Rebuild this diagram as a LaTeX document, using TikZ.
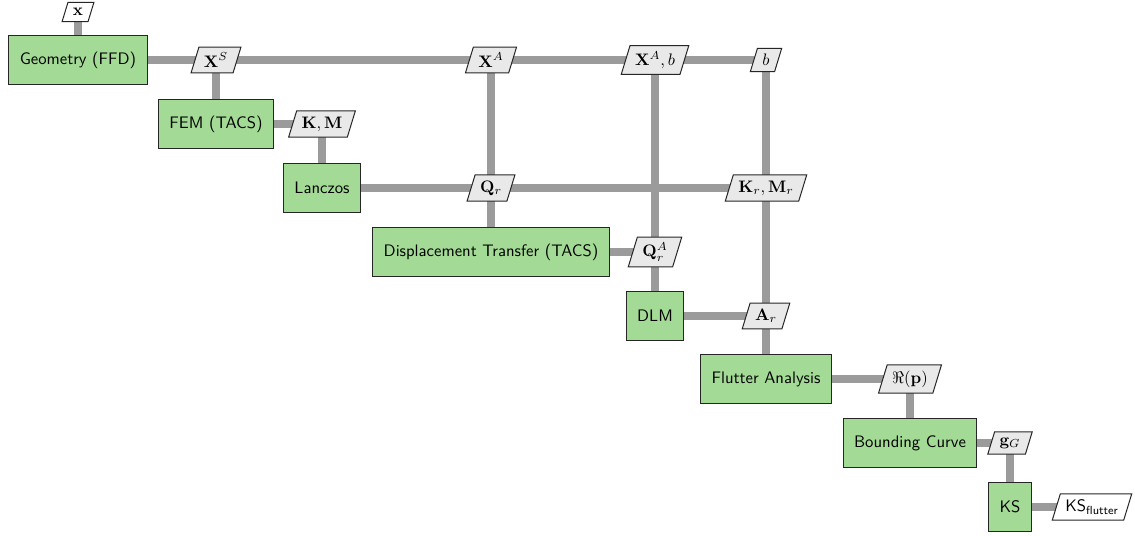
\documentclass[tikz,border=0pt]{standalone}
\usepackage{amsmath,amssymb}
\usetikzlibrary{shapes.geometric,backgrounds}
\definecolor{fgreen}{RGB}{163,218,149}
\definecolor{dgray}{RGB}{233,233,233}
\definecolor{lgray}{RGB}{155,155,155}
\begin{document}
\begin{tikzpicture}[x=0.6pt,y=-0.6pt,
 func/.style={draw=black!85, line width=0.6pt, fill=fgreen, minimum height=29.4pt, inner xsep=6.5pt, font=\sffamily},
 dat/.style={trapezium, trapezium left angle=73, trapezium right angle=107, draw=black!85, line width=0.6pt, fill=dgray, inner xsep=3pt, inner ysep=3.5pt},
 datin/.style={dat, fill=white},
 conn/.style={line width=4.8pt, draw=lgray}]
\useasboundingbox (0,0) rectangle (1135,536);
\node[datin] (x) at (78,12) {$\mathbf{x}$};
\node[func] (geo) at (78,60) {Geometry (FFD)};
\node[dat] (xs) at (216,60) {$\mathbf{X}^S$};
\node[dat] (xa) at (491,60) {$\mathbf{X}^A$};
\node[dat] (xab) at (655,60) {$\mathbf{X}^A, b$};
\node[dat] (b) at (766,60) {$b$};
\node[func] (fem) at (216,124) {FEM (TACS)};
\node[dat] (km) at (322,124) {$\mathbf{K}, \mathbf{M}$};
\node[func] (lan) at (322,188) {Lanczos};
\node[dat] (qr) at (491,188) {$\mathbf{Q}_r$};
\node[dat] (kmr) at (766,188) {$\mathbf{K}_r, \mathbf{M}_r$};
\node[func] (dt) at (491,252) {Displacement Transfer (TACS)};
\node[dat] (qra) at (655,252) {$\mathbf{Q}_r^A$};
\node[func] (dlm) at (655,316) {DLM};
\node[dat] (ar) at (766,316) {$\mathbf{A}_r$};
\node[func] (fa) at (766,379) {Flutter Analysis};
\node[dat] (rep) at (910,379) {$\Re(\mathbf{p})$};
\node[func] (bc) at (910,443) {Bounding Curve};
\node[dat] (gg) at (1010,443) {$\mathbf{g}_G$};
\node[func] (ks) at (1010,507) {KS};
\node[datin] (ksf) at (1092,507) {\textsf{KS}$_\textsf{flutter}$};
\begin{scope}[on background layer]
\draw[conn] (x.center) -- (geo.center);
\draw[conn] (geo.center) -- (b.center);
\draw[conn] (xs.center) -- (fem.center);
\draw[conn] (fem.center) -- (km.center);
\draw[conn] (km.center) -- (lan.center);
\draw[conn] (lan.center) -- (kmr.center);
\draw[conn] (xa.center) -- (dt.center);
\draw[conn] (xab.center) -- (dlm.center);
\draw[conn] (b.center) -- (fa.center);
\draw[conn] (dt.center) -- (qra.center);
\draw[conn] (dlm.center) -- (ar.center);
\draw[conn] (fa.center) -- (rep.center);
\draw[conn] (rep.center) -- (bc.center);
\draw[conn] (bc.center) -- (gg.center);
\draw[conn] (gg.center) -- (ks.center);
\draw[conn] (ks.center) -- (ksf.center);
\end{scope}
\end{tikzpicture}
\end{document}
